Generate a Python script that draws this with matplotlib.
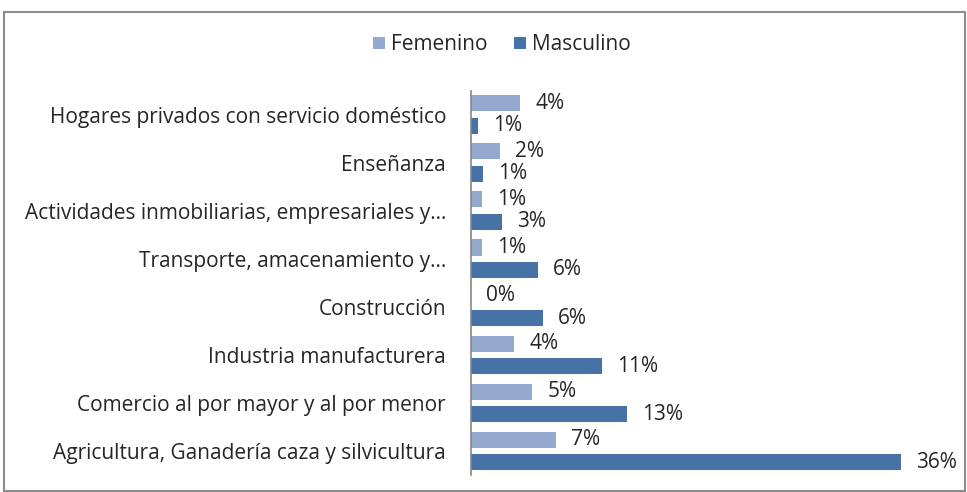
import matplotlib
matplotlib.use("Agg")
import matplotlib.pyplot as plt
from matplotlib.patches import Rectangle
import numpy as np

categories = [
    "Hogares privados con servicio doméstico",
    "Enseñanza",
    "Actividades inmobiliarias, empresariales y…",
    "Transporte, amacenamiento y…",
    "Construcción",
    "Industria manufacturera",
    "Comercio al por mayor y al por menor",
    "Agricultura, Ganadería caza y silvicultura",
]
femenino = [4.1, 2.4, 0.9, 0.9, 0.0, 3.6, 5.1, 7.1]
masculino = [0.6, 1.0, 2.6, 5.6, 6.0, 10.9, 13.0, 35.8]
series_names = ["Femenino", "Masculino"]

c_fem = "#94A8D0"
c_mas = "#4672A8"
txt = "#262626"

plt.rcParams['font.family'] = ['Open Sans', 'DejaVu Sans']
FS = 15

W, H = 967, 492
fig = plt.figure(figsize=(W / 100, H / 100), dpi=100)

# frame
fig.patches.append(Rectangle((4 / W, 1 - 491 / H), (965 - 4) / W, (491 - 12) / H,
                             transform=fig.transFigure, fill=False,
                             edgecolor="#8c8c8c", linewidth=1.5))

ax = fig.add_axes([471 / W, 1 - 475 / H, (951 - 471) / W, (475 - 90.5) / H])

n = len(categories)
y = np.arange(n)
off = 0.234
h = 0.335
ax.barh(y - off, femenino, height=h, color=c_fem, label=series_names[0])
ax.barh(y + off, masculino, height=h, color=c_mas, label=series_names[1])

for vals, sgn in ((femenino, -1), (masculino, 1)):
    for i, v in enumerate(vals):
        ax.annotate(f"{v:.0f}%", xy=(v, i + sgn * off), xytext=(10.8, 0),
                    textcoords="offset points", va="center", ha="left",
                    fontsize=FS, color=txt)

ax.set_ylim(n - 0.5, -0.5)
ax.set_xlim(0, 40)
ax.set_yticks(y)
ax.set_yticklabels(categories, fontsize=FS, color=txt)
ax.tick_params(axis="y", length=0, pad=18)
ax.set_xticks([])
for s in ("top", "right", "bottom"):
    ax.spines[s].set_visible(False)
ax.spines["left"].set_color("#868686")
ax.spines["left"].set_linewidth(1.2)

fig.legend(loc="center", bbox_to_anchor=(502 / W, 1 - 45 / H), ncol=2,
           frameon=False, fontsize=FS, handlelength=0.55, handleheight=0.55,
           handletextpad=0.3, columnspacing=1.3, labelcolor=txt)

fig.savefig("out.png", dpi=100)
